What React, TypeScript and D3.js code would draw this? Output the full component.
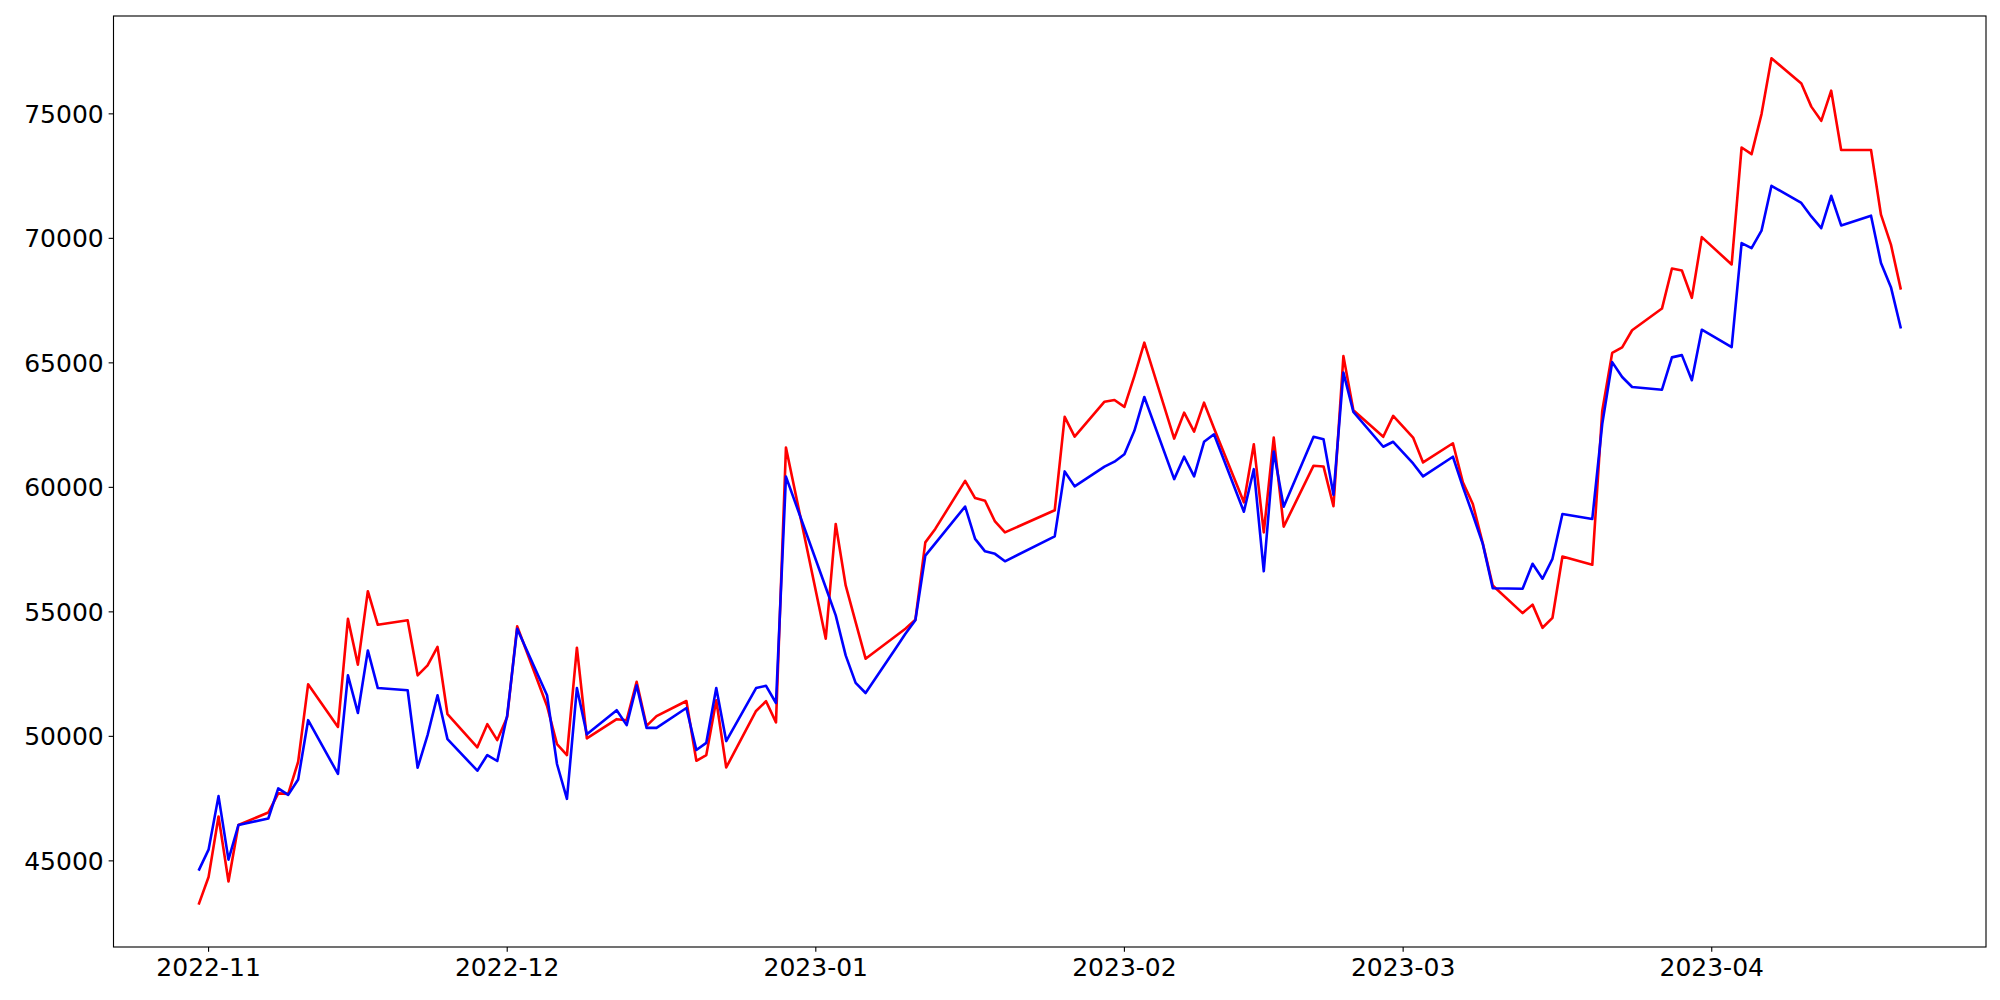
import React from "react";
import * as d3 from "d3";

const dates: string[] = [
  "2022-10-31",
  "2022-11-01", "2022-11-02", "2022-11-03", "2022-11-04",
  "2022-11-07", "2022-11-08", "2022-11-09", "2022-11-10", "2022-11-11",
  "2022-11-14", "2022-11-15", "2022-11-16", "2022-11-17", "2022-11-18",
  "2022-11-21", "2022-11-22", "2022-11-23", "2022-11-24", "2022-11-25",
  "2022-11-28", "2022-11-29", "2022-11-30", "2022-12-01", "2022-12-02",
  "2022-12-05", "2022-12-06", "2022-12-07", "2022-12-08", "2022-12-09",
  "2022-12-12", "2022-12-13", "2022-12-14", "2022-12-15", "2022-12-16",
  "2022-12-19", "2022-12-20", "2022-12-21", "2022-12-22", "2022-12-23",
  "2022-12-26", "2022-12-27", "2022-12-28", "2022-12-29",
  "2023-01-02", "2023-01-03", "2023-01-04", "2023-01-05", "2023-01-06",
  "2023-01-09", "2023-01-10", "2023-01-11", "2023-01-12", "2023-01-13",
  "2023-01-16", "2023-01-17", "2023-01-18", "2023-01-19", "2023-01-20",
  "2023-01-25", "2023-01-26", "2023-01-27",
  "2023-01-30", "2023-01-31", "2023-02-01", "2023-02-02", "2023-02-03",
  "2023-02-06", "2023-02-07", "2023-02-08", "2023-02-09", "2023-02-10",
  "2023-02-13", "2023-02-14", "2023-02-15", "2023-02-16", "2023-02-17",
  "2023-02-20", "2023-02-21", "2023-02-22", "2023-02-23", "2023-02-24",
  "2023-02-27", "2023-02-28",
  "2023-03-02", "2023-03-03",
  "2023-03-06", "2023-03-07", "2023-03-08", "2023-03-09", "2023-03-10",
  "2023-03-13", "2023-03-14", "2023-03-15", "2023-03-16", "2023-03-17",
  "2023-03-20", "2023-03-21", "2023-03-22", "2023-03-23", "2023-03-24",
  "2023-03-27", "2023-03-28", "2023-03-29", "2023-03-30", "2023-03-31",
  "2023-04-03", "2023-04-04", "2023-04-05", "2023-04-06", "2023-04-07",
  "2023-04-10", "2023-04-11", "2023-04-12", "2023-04-13", "2023-04-14",
  "2023-04-17", "2023-04-18", "2023-04-19", "2023-04-20",
];

const redValues: number[] = [
  43240,
  44350, 46780, 44170, 46440,
  46940, 47710, 47690, 48980, 52090,
  50380, 54720, 52880, 55830, 54480,
  54660, 52450, 52850, 53590, 50890,
  49560, 50490, 49850, 50780, 54420,
  51220, 49690, 49250, 53560, 49920,
  50690, 50650, 52190, 50420, 50810,
  51420, 49020, 49250, 51450, 48750,
  51020, 51410, 50560, 61600,
  53920, 58530, 56060, 54590, 53120,
  54020, 54320, 54680, 57790, 58330,
  60260, 59570, 59460, 58630, 58190,
  59080, 62830, 62040,
  63440, 63510, 63230, 64470, 65810,
  61960, 63000, 62240, 63400, 62370,
  59400, 61730, 58190, 62000, 58420,
  60870, 60840, 59240, 65270, 63100,
  62030, 62870,
  62000, 61000,
  61770, 60200, 59330, 57750, 56060,
  54950, 55290, 54360, 54760, 57220,
  56890, 63070, 65400, 65620, 66310,
  67180, 68790, 68710, 67610, 70050,
  68950, 73650, 73380, 74990, 77230,
  76220, 75290, 74720, 75930, 73550,
  73550, 70950, 69750, 67940,
];

const blueValues: number[] = [
  44610,
  45450, 47600, 45050, 46440,
  46700, 47910, 47650, 48270, 50650,
  48490, 52450, 50940, 53450, 51940,
  51850, 48740, 50050, 51650, 49890,
  48620, 49250, 49010, 50850, 54320,
  51650, 48890, 47490, 51940, 50080,
  51050, 50450, 52050, 50340, 50340,
  51140, 49450, 49740, 51940, 49810,
  51940, 52030, 51340, 60430,
  55980, 54860, 53250, 52150, 51740,
  53520, 54120, 54660, 57260, 57750,
  59230, 57930, 57430, 57330, 57030,
  58030, 60640, 60040,
  60830, 61030, 61330, 62270, 63630,
  60330, 61230, 60440, 61830, 62130,
  59020, 60730, 56630, 61440, 59220,
  62030, 61930, 59700, 64610, 63030,
  61630, 61830,
  60960, 60440,
  61230, 60020, 58900, 57730, 55950,
  55930, 56930, 56330, 57130, 58930,
  58730, 62540, 65030, 64430, 64030,
  63920, 65220, 65310, 64300, 66330,
  65630, 69810, 69610, 70310, 72110,
  71420, 70880, 70410, 71710, 70520,
  70910, 69010, 68040, 66380,
];

const yTickValues: number[] = [45000, 50000, 55000, 60000, 65000, 70000, 75000];
const xTickLabels: string[] = ["2022-11", "2022-12", "2023-01", "2023-02", "2023-03", "2023-04"];

const W = 2000;
const H = 1000;
const plot = { left: 113.5, right: 1986, top: 16, bottom: 947 };

export default function App() {
  const parse = d3.timeParse("%Y-%m-%d");
  const parseMonth = d3.timeParse("%Y-%m");
  const xs = dates.map((d) => parse(d) as Date);

  const [tMin, tMax] = d3.extent(xs) as [Date, Date];
  const span = +tMax - +tMin;
  const x = d3
    .scaleTime()
    .domain([new Date(+tMin - span * 0.05), new Date(+tMax + span * 0.05)])
    .range([plot.left, plot.right]);

  const all = redValues.concat(blueValues);
  const vMin = d3.min(all) as number;
  const vMax = d3.max(all) as number;
  const vSpan = vMax - vMin;
  const y = d3
    .scaleLinear()
    .domain([vMin - vSpan * 0.05, vMax + vSpan * 0.05])
    .range([plot.bottom, plot.top]);

  const line = d3
    .line<number>()
    .x((_, i) => x(xs[i]))
    .y((v) => y(v));

  const tickLen = 4.86;
  const font = "'DejaVu Sans', sans-serif";
  const fs = 25;

  return (
    <svg
      width={W}
      height={H}
      style={{ position: "absolute", left: 0, top: 0, background: "#fff" }}
    >
      <rect x={0} y={0} width={W} height={H} fill="#fff" />
      <defs>
        <clipPath id="plotclip">
          <rect x={plot.left} y={plot.top} width={plot.right - plot.left} height={plot.bottom - plot.top} />
        </clipPath>
      </defs>
      <g clipPath="url(#plotclip)">
        <path d={line(redValues) || ""} fill="none" stroke="#ff0000" strokeWidth={2.6} strokeLinejoin="round" />
        <path d={line(blueValues) || ""} fill="none" stroke="#0000ff" strokeWidth={2.6} strokeLinejoin="round" />
      </g>
      <rect
        x={plot.left}
        y={plot.top}
        width={plot.right - plot.left}
        height={plot.bottom - plot.top}
        fill="none"
        stroke="#000"
        strokeWidth={1.11}
      />
      {yTickValues.map((v) => (
        <g key={v}>
          <line x1={plot.left - tickLen} x2={plot.left} y1={y(v)} y2={y(v)} stroke="#000" strokeWidth={1.11} />
          <text
            x={plot.left - tickLen - 4.9}
            y={y(v) + 9}
            textAnchor="end"
            fontFamily={font}
            fontSize={fs}
            fill="#000"
          >
            {v}
          </text>
        </g>
      ))}
      {xTickLabels.map((m) => {
        const px = x(parseMonth(m) as Date);
        return (
          <g key={m}>
            <line x1={px} x2={px} y1={plot.bottom} y2={plot.bottom + tickLen} stroke="#000" strokeWidth={1.11} />
            <text x={px} y={plot.bottom + tickLen + 4.9 + 19} textAnchor="middle" fontFamily={font} fontSize={fs} fill="#000">
              {m}
            </text>
          </g>
        );
      })}
    </svg>
  );
}
